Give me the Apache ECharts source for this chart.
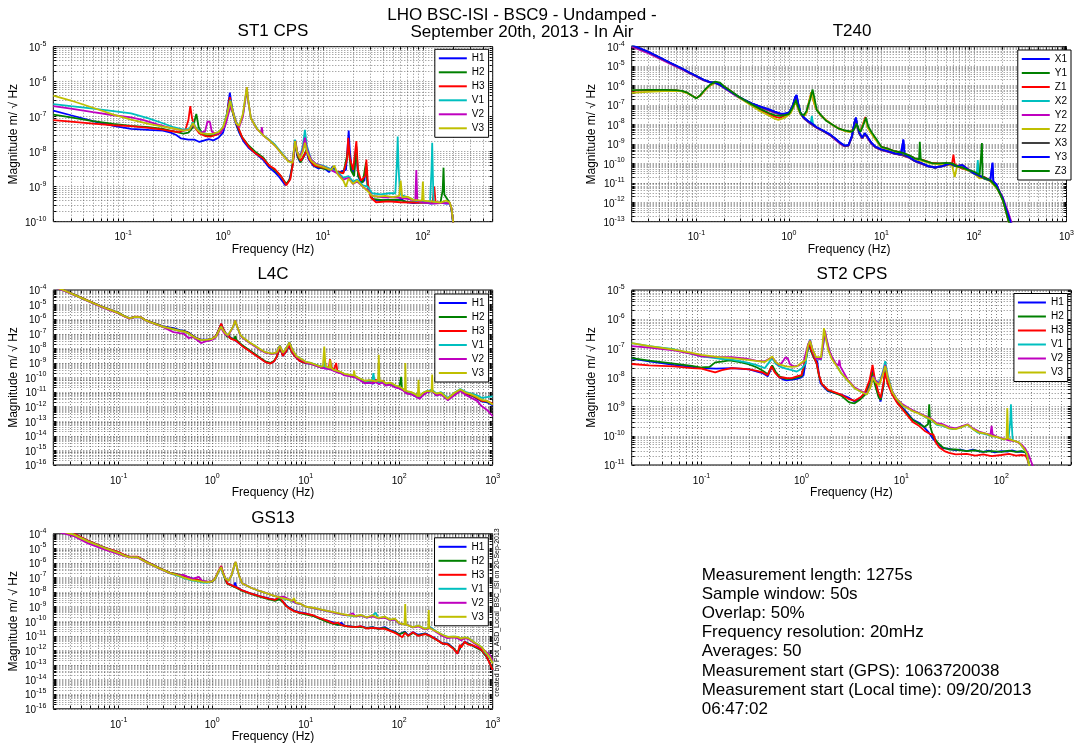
<!DOCTYPE html>
<html>
<head>
<meta charset="utf-8">
<title>LHO BSC-ISI - BSC9 - Undamped</title>
<script src="https://cdn.jsdelivr.net/npm/echarts@6/dist/echarts.min.js"></script>
<style>
html, body { margin: 0; padding: 0; background: #fff; }
#main { width: 1077px; height: 746px; }
</style>
</head>
<body>
<div id="main"></div>
<script>
// 频率下限（分辨率 20 mHz）
var FMIN = 0.02;

// 传感器名称
var cpsNames = ['H1', 'H2', 'H3', 'V1', 'V2', 'V3'];
var t240Names = ['X1', 'Y1', 'Z1', 'X2', 'Y2', 'Z2', 'X3', 'Y3', 'Z3'];

// ---------------- ST1 CPS ----------------
var st1H1 = [[0.02,1.5e-7],[0.03,1.1e-7],[0.05,7.5e-8],[0.08,5.5e-8],[0.12,4.5e-8],[0.18,4.2e-8],[0.25,4e-8],[0.3,3.5e-8],[0.34,3e-8],[0.38,2.4e-8],[0.45,2.2e-8],[0.52,2.2e-8],[0.58,1.9e-8],[0.65,2.1e-8],[0.72,2.3e-8],[0.8,2.1e-8],[0.9,2.5e-8],[1.0,3.5e-8],[1.08,8e-8],[1.13,2.5e-7],[1.17,4.9e-7],[1.21,2.5e-7],[1.27,1.1e-7],[1.35,6e-8],[1.45,3.5e-8],[1.6,2e-8],[1.8,1.3e-8],[2.1,9e-9],[2.5,6e-9],[2.9,3.5e-9],[3.3,2.6e-9],[3.7,1.8e-9],[4.2,1.1e-9],[4.6,1.5e-9],[4.95,4e-9],[5.25,2e-8],[5.5,8e-9],[5.9,5e-9],[6.4,7e-9],[6.8,1.1e-8],[7.2,6e-9],[8,4e-9],[9,3.3e-9],[10,3.6e-9],[11.5,2.6e-9],[12.5,3.8e-9],[14,2.4e-9],[15.5,2.8e-9],[17,3e-9],[17.6,1.2e-8],[18.1,4e-8],[18.6,1e-8],[19.5,3e-9],[20.5,2.5e-9],[21.5,1.2e-8],[22.5,2e-9],[24,1.3e-9],[26,1.5e-9],[27,4e-9],[28,1.1e-9],[30,6e-10],[32,4.2e-10],[38,4e-10],[45,4.3e-10],[52,3.8e-10],[60,4.5e-10],[68,3.6e-10],[80,3.4e-10],[100,3.6e-10],[120,3.3e-10],[145,3.5e-10],[170,3.3e-10],[185,3.3e-10],[192,2.5e-10],[197,1.4e-10],[201,8e-11]];
var st1H2 = [[0.02,1.15e-7],[0.03,9.5e-8],[0.05,7.5e-8],[0.08,6.2e-8],[0.12,5.5e-8],[0.18,5e-8],[0.25,4.5e-8],[0.32,3.8e-8],[0.4,3.3e-8],[0.45,3.5e-8],[0.5,5e-8],[0.54,1.2e-7],[0.57,5e-8],[0.62,3.3e-8],[0.7,2.8e-8],[0.8,3e-8],[0.9,3.2e-8],[1.0,4.5e-8],[1.1,1.2e-7],[1.17,3.2e-7],[1.23,1.5e-7],[1.3,9e-8],[1.4,5e-8],[1.55,2.6e-8],[1.8,1.5e-8],[2.1,1e-8],[2.5,7e-9],[2.9,4e-9],[3.3,3e-9],[3.8,2e-9],[4.3,1.2e-9],[4.7,1.7e-9],[5.0,5e-9],[5.3,1.8e-8],[5.6,7e-9],[6.0,5e-9],[6.5,8e-9],[6.9,1.2e-8],[7.3,6e-9],[8.2,4e-9],[10,3.3e-9],[12,3e-9],[14,2.6e-9],[16,2.5e-9],[17.5,8e-9],[18,1.5e-8],[19,3e-9],[20.5,2e-9],[21.6,1.4e-8],[22.5,2e-9],[25,1.3e-9],[27,5e-9],[28,1e-9],[31,4.5e-10],[40,4.1e-10],[55,4.3e-10],[70,3.7e-10],[90,3.6e-10],[120,3.4e-10],[150,3.5e-10],[158,8e-10],[161,3.5e-9],[164,6e-10],[185,3.5e-10],[193,2.4e-10],[198,1.4e-10],[202,8e-11]];
var st1H3 = [[0.02,8e-8],[0.03,7.2e-8],[0.05,6.3e-8],[0.08,5.7e-8],[0.12,5.4e-8],[0.18,4.8e-8],[0.25,4.3e-8],[0.3,3.9e-8],[0.36,3.6e-8],[0.42,4.2e-8],[0.45,8e-8],[0.47,2e-7],[0.49,9e-8],[0.52,5e-8],[0.58,3.3e-8],[0.66,2.8e-8],[0.75,2.7e-8],[0.85,3e-8],[0.95,3.5e-8],[1.05,6.5e-8],[1.12,1.8e-7],[1.17,3.6e-7],[1.22,2e-7],[1.3,1e-7],[1.4,5.5e-8],[1.55,2.6e-8],[1.8,1.4e-8],[2.1,9e-9],[2.5,6.5e-9],[2.9,4e-9],[3.3,3.2e-9],[3.8,2e-9],[4.3,1.1e-9],[4.7,1.6e-9],[5.0,4.5e-9],[5.3,2.1e-8],[5.6,8e-9],[6.0,5.5e-9],[6.5,8e-9],[6.9,1.1e-8],[7.3,6e-9],[8.2,4e-9],[10,3.5e-9],[12,3.2e-9],[14,2.7e-9],[16,2.4e-9],[17.4,6e-9],[17.9,2.5e-8],[18.5,7e-9],[20,3e-9],[21.6,2e-8],[22.4,3e-9],[24,1.5e-9],[26.5,2e-9],[27.2,6e-9],[28.2,1.2e-9],[30,5e-10],[34,3.6e-10],[45,3.8e-10],[60,3.6e-10],[80,3.5e-10],[100,3.5e-10],[125,3.6e-10],[130,1e-9],[134,3.6e-10],[160,3.4e-10],[185,3.5e-10],[193,2.5e-10],[198,1.4e-10],[202,8e-11]];
var st1V1 = [[0.02,2.3e-7],[0.03,2e-7],[0.05,1.7e-7],[0.08,1.45e-7],[0.12,1.25e-7],[0.18,9e-8],[0.25,6.5e-8],[0.32,5e-8],[0.4,4.3e-8],[0.46,4.5e-8],[0.5,7e-8],[0.53,5e-8],[0.6,3.6e-8],[0.7,3.2e-8],[0.8,3.3e-8],[0.9,3.6e-8],[1.0,5e-8],[1.1,1.3e-7],[1.18,3e-7],[1.25,1.5e-7],[1.35,7e-8],[1.45,5.5e-8],[1.58,1.1e-7],[1.68,3.5e-7],[1.73,6e-7],[1.78,3e-7],[1.9,9e-8],[2.2,4.5e-8],[2.5,3e-8],[2.9,2.2e-8],[3.3,1.6e-8],[3.9,9e-9],[4.5,5.5e-9],[4.95,5e-9],[5.25,2.2e-8],[5.5,1e-8],[5.9,7e-9],[6.3,1.5e-8],[6.6,4.2e-8],[6.9,1.5e-8],[7.6,6e-9],[8.5,4.5e-9],[10,4e-9],[12,3.2e-9],[14,2.6e-9],[16,1.8e-9],[18,2e-9],[20,1.4e-9],[22,1.6e-9],[25,1.1e-9],[28,1e-9],[31,6.5e-10],[38,6e-10],[46,6.5e-10],[53,6.5e-10],[55,5e-9],[56,2.7e-8],[57,4e-9],[59,6e-10],[70,5e-10],[85,4e-10],[100,3.6e-10],[118,3.5e-10],[122,3e-9],[124,1.8e-8],[126,2e-9],[128,3.6e-10],[150,3.4e-10],[185,3.4e-10],[193,2.4e-10],[198,1.4e-10],[202,8e-11]];
var st1V2 = [[0.02,2e-7],[0.03,1.7e-7],[0.05,1.35e-7],[0.08,1.1e-7],[0.12,9.5e-8],[0.16,8e-8],[0.22,6e-8],[0.3,4.7e-8],[0.4,4e-8],[0.46,4.2e-8],[0.5,6e-8],[0.54,4.5e-8],[0.6,3.5e-8],[0.66,3.8e-8],[0.7,7.4e-8],[0.74,7e-8],[0.77,3.8e-8],[0.85,3.2e-8],[0.95,3.6e-8],[1.05,5.5e-8],[1.15,1.4e-7],[1.2,2e-7],[1.27,1.2e-7],[1.35,6.5e-8],[1.45,5e-8],[1.58,1e-7],[1.68,3.5e-7],[1.73,7e-7],[1.78,3e-7],[1.9,9e-8],[2.2,4.3e-8],[2.4,3.5e-8],[2.45,5e-8],[2.5,3e-8],[2.9,2.1e-8],[3.3,1.5e-8],[3.9,8.5e-9],[4.5,5.5e-9],[4.95,5e-9],[5.25,2e-8],[5.5,1e-8],[5.9,7e-9],[6.3,1.2e-8],[6.6,2.5e-8],[6.9,1.2e-8],[7.6,6e-9],[8.5,4.5e-9],[10,3.8e-9],[12,3e-9],[14,2.4e-9],[16,1.6e-9],[18,1.8e-9],[20,1.2e-9],[22,1.4e-9],[25,1e-9],[28,8e-10],[31,5.5e-10],[40,5e-10],[55,5e-10],[70,4.5e-10],[84,4e-10],[86,3e-9],[88,4e-10],[100,3.5e-10],[130,3.3e-10],[150,3.4e-10],[185,3.4e-10],[193,2.4e-10],[198,1.4e-10],[203,8e-11]];
var st1V3 = [[0.02,4e-7],[0.03,2.9e-7],[0.05,1.8e-7],[0.08,1.15e-7],[0.12,8.3e-8],[0.18,6.2e-8],[0.25,5.2e-8],[0.32,4.6e-8],[0.4,4e-8],[0.46,4.2e-8],[0.5,6.5e-8],[0.54,4.5e-8],[0.6,3.4e-8],[0.7,3.2e-8],[0.8,3.3e-8],[0.9,3.6e-8],[1.0,5e-8],[1.1,1.2e-7],[1.18,2.8e-7],[1.25,1.4e-7],[1.35,6.5e-8],[1.45,5.5e-8],[1.58,1.2e-7],[1.68,4e-7],[1.73,7e-7],[1.78,3.2e-7],[1.9,9e-8],[2.2,4.4e-8],[2.5,3e-8],[2.9,2.1e-8],[3.3,1.5e-8],[3.9,8.5e-9],[4.5,5.3e-9],[4.95,4.8e-9],[5.25,2e-8],[5.5,1e-8],[5.9,6.5e-9],[6.3,1e-8],[6.6,1.8e-8],[6.9,1e-8],[7.6,5.5e-9],[8.5,4.3e-9],[10,3.7e-9],[12,3e-9],[13,4e-9],[14,2.3e-9],[16,1.5e-9],[17,1e-9],[18,1.7e-9],[20,1.2e-9],[22,1.5e-9],[25,1e-9],[28,7.5e-10],[31,5.5e-10],[36,5.2e-10],[42,5.5e-10],[50,5e-10],[58,5.5e-10],[60,1.5e-9],[62,5e-10],[70,5.2e-10],[80,4.2e-10],[98,4e-10],[100,1.4e-9],[102,4e-10],[120,3.8e-10],[150,3.5e-10],[170,4e-10],[185,3.6e-10],[193,2.5e-10],[198,1.4e-10],[203,8e-11]];

// ---------------- T240 ----------------
var t240X1 = [[0.02,1.2e-4],[0.03,5.5e-5],[0.04,2.8e-5],[0.055,1.3e-5],[0.07,7.5e-6],[0.085,4.5e-6],[0.1,3.1e-6],[0.12,2e-6],[0.14,1.5e-6],[0.16,1.4e-6],[0.18,1.1e-6],[0.2,8e-7],[0.24,4.5e-7],[0.28,2.8e-7],[0.33,1.8e-7],[0.4,1.2e-7],[0.5,8e-8],[0.6,6e-8],[0.7,4.5e-8],[0.8,3.6e-8],[0.9,3.5e-8],[1.0,4e-8],[1.1,9e-8],[1.17,2.5e-7],[1.21,3.2e-7],[1.26,1.2e-7],[1.33,4e-8],[1.45,2.2e-8],[1.6,1.5e-8],[1.8,1e-8],[2.0,7e-9],[2.4,4.5e-9],[2.8,3e-9],[3.2,1.8e-9],[3.6,1.1e-9],[4.0,8e-10],[4.4,8.5e-10],[4.8,2.5e-9],[5.1,1.2e-8],[5.3,2.2e-8],[5.5,8e-9],[5.8,3.5e-9],[6.2,2e-9],[6.6,3.5e-9],[7.0,2.5e-9],[7.8,1.1e-9],[8.6,7e-10],[10,5e-10],[12,4e-10],[14,3.2e-10],[16,2.8e-10],[17.3,1.6e-9],[17.8,2.8e-10],[20,2e-10],[23,1.3e-10],[27,1e-10],[32,7e-11],[38,6e-11],[45,7e-11],[55,1e-10],[65,7e-11],[75,8e-11],[85,5e-11],[100,3e-11],[115,2.2e-11],[130,1.8e-11],[150,1.3e-11],[158,1e-10],[162,1.2e-11],[175,8e-12],[190,3e-12],[205,1.5e-12],[220,5e-13],[235,2e-13],[250,8e-14]];
var t240Y1 = [[0.02,1.15e-4],[0.03,5.2e-5],[0.04,2.7e-5],[0.055,1.25e-5],[0.07,7.2e-6],[0.085,4.4e-6],[0.1,3e-6],[0.12,1.9e-6],[0.14,1.5e-6],[0.16,1.4e-6],[0.18,1.1e-6],[0.2,8e-7],[0.24,4.4e-7],[0.28,2.8e-7],[0.33,1.8e-7],[0.4,1.15e-7],[0.5,7.5e-8],[0.6,5.5e-8],[0.7,4.2e-8],[0.8,3.4e-8],[0.9,3.3e-8],[1.0,3.8e-8],[1.1,8e-8],[1.17,2e-7],[1.21,2.6e-7],[1.26,1e-7],[1.33,3.8e-8],[1.45,2.1e-8],[1.6,1.4e-8],[1.8,9.5e-9],[2.0,6.8e-9],[2.4,4.3e-9],[2.8,2.8e-9],[3.2,1.7e-9],[3.6,1.05e-9],[4.0,7.8e-10],[4.4,8.5e-10],[4.8,2.2e-9],[5.1,1e-8],[5.3,1.8e-8],[5.5,7e-9],[5.8,3.2e-9],[6.2,1.9e-9],[6.6,3.2e-9],[7.0,2.3e-9],[7.8,1e-9],[8.6,6.8e-10],[10,5e-10],[12,4e-10],[14,3.2e-10],[17,2.6e-10],[20,2e-10],[23,1.4e-10],[27,1e-10],[32,7.5e-11],[38,6e-11],[45,7.5e-11],[55,9e-11],[65,7e-11],[75,7.5e-11],[85,5e-11],[100,3e-11],[115,2.2e-11],[130,1.6e-11],[150,1.3e-11],[175,7e-12],[190,3e-12],[205,1.4e-12],[220,5e-13],[235,1.8e-13],[250,7e-14]];
var t240Z1 = [[0.02,5.5e-7],[0.03,5.7e-7],[0.045,5.8e-7],[0.06,5.6e-7],[0.07,5.2e-7],[0.08,4.2e-7],[0.09,3e-7],[0.1,2.3e-7],[0.11,3e-7],[0.125,6e-7],[0.14,1e-6],[0.16,1.4e-6],[0.18,1.3e-6],[0.2,9e-7],[0.24,5e-7],[0.28,2.8e-7],[0.33,1.7e-7],[0.4,1e-7],[0.5,5.5e-8],[0.6,3.6e-8],[0.7,2.5e-8],[0.8,2.2e-8],[0.9,2.8e-8],[1.0,3.2e-8],[1.1,7e-8],[1.19,1.6e-7],[1.26,7e-8],[1.35,3.2e-8],[1.45,2.7e-8],[1.55,4e-8],[1.65,1.5e-7],[1.75,4.5e-7],[1.82,2e-7],[1.95,7e-8],[2.2,3e-8],[2.6,1.5e-8],[3.0,9e-9],[3.5,6e-9],[4.0,4.8e-9],[4.6,4.2e-9],[5.0,6e-9],[5.3,1.1e-8],[5.6,6e-9],[5.9,4.5e-9],[6.3,1e-8],[6.7,2.4e-8],[7.1,8e-9],[7.8,3.5e-9],[8.6,1.8e-9],[10,7e-10],[12,5.5e-10],[14,4.2e-10],[17,3.5e-10],[20,2.5e-10],[23,1.8e-10],[28,1.5e-10],[34,1.1e-10],[42,1e-10],[50,1e-10],[58,1e-10],[60,2.8e-10],[62,9e-11],[70,6e-11],[85,4.5e-11],[100,3.5e-11],[115,1.8e-11],[130,2e-11],[150,1.3e-11],[175,6e-12],[190,3e-12],[205,1.3e-12],[220,4e-13],[235,1.2e-13],[245,6e-14]];
var t240X2 = [[0.02,1.15e-4],[0.03,5.3e-5],[0.04,2.7e-5],[0.055,1.25e-5],[0.07,7.2e-6],[0.085,4.4e-6],[0.1,3e-6],[0.12,1.9e-6],[0.14,1.45e-6],[0.16,1.35e-6],[0.18,1.05e-6],[0.2,7.8e-7],[0.24,4.4e-7],[0.28,2.7e-7],[0.33,1.75e-7],[0.4,1.15e-7],[0.5,7.5e-8],[0.6,5.6e-8],[0.7,4.3e-8],[0.8,3.5e-8],[0.9,3.4e-8],[1.0,3.9e-8],[1.1,8.5e-8],[1.17,2.2e-7],[1.21,2.8e-7],[1.26,1.1e-7],[1.33,3.9e-8],[1.45,2.2e-8],[1.6,1.5e-8],[1.72,1.2e-8],[1.77,2.8e-8],[1.82,1.1e-8],[2.0,7e-9],[2.4,4.4e-9],[2.8,2.9e-9],[3.2,1.75e-9],[3.6,1.1e-9],[4.0,8e-10],[4.4,8.5e-10],[4.8,2.3e-9],[5.1,1.1e-8],[5.3,2e-8],[5.5,7.5e-9],[5.8,3.3e-9],[6.2,2e-9],[6.6,3.3e-9],[7.0,2.4e-9],[7.8,1.05e-9],[8.6,7e-10],[10,5e-10],[12,4e-10],[14,3.2e-10],[17,2.7e-10],[20,2e-10],[23,1.35e-10],[27,1e-10],[32,7e-11],[38,6e-11],[45,7e-11],[55,9.5e-11],[65,7e-11],[75,7.8e-11],[85,5e-11],[100,3e-11],[107,2.4e-11],[110,1.5e-10],[113,2.2e-11],[130,1.7e-11],[150,1.3e-11],[175,7.5e-12],[190,3e-12],[205,1.4e-12],[220,5e-13],[235,1.9e-13],[250,7e-14]];
var t240Y2 = [[0.02,1e-4],[0.03,4.6e-5],[0.04,2.4e-5],[0.055,1.15e-5],[0.07,6.8e-6],[0.085,4.2e-6],[0.1,2.9e-6],[0.12,1.85e-6],[0.14,1.45e-6],[0.16,1.35e-6],[0.18,1.05e-6],[0.2,7.5e-7],[0.24,4.2e-7],[0.28,2.6e-7],[0.33,1.7e-7],[0.4,1.1e-7],[0.5,7.2e-8],[0.6,5.3e-8],[0.7,4.1e-8],[0.8,3.3e-8],[0.9,3.2e-8],[1.0,3.7e-8],[1.1,8e-8],[1.17,2e-7],[1.21,2.7e-7],[1.26,1e-7],[1.33,3.7e-8],[1.45,2.1e-8],[1.6,1.4e-8],[1.8,9.5e-9],[2.0,6.6e-9],[2.4,4.2e-9],[2.8,2.7e-9],[3.2,1.6e-9],[3.6,1e-9],[4.0,7.5e-10],[4.4,8e-10],[4.8,2.2e-9],[5.1,1e-8],[5.3,1.8e-8],[5.5,7e-9],[5.8,3.2e-9],[6.2,1.9e-9],[6.6,3.2e-9],[7.0,2.2e-9],[7.8,1e-9],[8.6,6.6e-10],[10,4.8e-10],[12,3.8e-10],[14,3.1e-10],[17,2.6e-10],[20,1.9e-10],[23,1.3e-10],[27,9.5e-11],[32,7e-11],[38,6e-11],[45,7e-11],[55,9e-11],[65,7.5e-11],[75,8e-11],[85,5.5e-11],[100,3.2e-11],[115,2.3e-11],[130,1.8e-11],[150,1.4e-11],[175,8e-12],[190,3.5e-12],[205,1.8e-12],[220,7e-13],[235,3e-13],[250,1.2e-13],[260,7e-14]];
var t240Z2 = [[0.02,4.2e-7],[0.03,4.8e-7],[0.045,5.2e-7],[0.06,5.3e-7],[0.07,5e-7],[0.08,4e-7],[0.09,2.9e-7],[0.1,2.3e-7],[0.11,3e-7],[0.125,6e-7],[0.14,1e-6],[0.16,1.4e-6],[0.18,1.3e-6],[0.2,8.5e-7],[0.24,4.8e-7],[0.28,2.7e-7],[0.33,1.6e-7],[0.4,9e-8],[0.5,4.5e-8],[0.6,3e-8],[0.7,2e-8],[0.77,1.7e-8],[0.85,2e-8],[0.95,2.6e-8],[1.05,4e-8],[1.12,8e-8],[1.19,1.5e-7],[1.26,6e-8],[1.35,3e-8],[1.45,2.6e-8],[1.55,4e-8],[1.65,1.5e-7],[1.75,4.5e-7],[1.82,2e-7],[1.95,7e-8],[2.2,3e-8],[2.6,1.5e-8],[3.0,9e-9],[3.5,6e-9],[4.0,4.6e-9],[4.6,4e-9],[5.0,5.5e-9],[5.3,1e-8],[5.6,5.5e-9],[5.9,4.3e-9],[6.3,9e-9],[6.7,2e-8],[7.1,7e-9],[7.8,3.3e-9],[8.6,1.7e-9],[10,6.5e-10],[12,5e-10],[14,4e-10],[17,3.2e-10],[20,2.3e-10],[23,1.6e-10],[28,1.3e-10],[34,1e-10],[42,9e-11],[50,9e-11],[58,8e-11],[62,2e-11],[66,8e-11],[75,6e-11],[85,4.5e-11],[100,3.2e-11],[115,1.7e-11],[130,1.8e-11],[150,1.2e-11],[175,5.5e-12],[190,2.8e-12],[205,1.2e-12],[220,4e-13],[235,1.2e-13],[245,6e-14]];
var t240X3 = [[0.02,1.18e-4],[0.03,5.4e-5],[0.04,2.75e-5],[0.055,1.28e-5],[0.07,7.4e-6],[0.085,4.5e-6],[0.1,3.05e-6],[0.12,1.95e-6],[0.14,1.5e-6],[0.16,1.4e-6],[0.18,1.08e-6],[0.2,7.9e-7],[0.24,4.5e-7],[0.28,2.8e-7],[0.33,1.8e-7],[0.4,1.18e-7],[0.5,7.8e-8],[0.6,5.8e-8],[0.7,4.4e-8],[0.8,3.5e-8],[0.9,3.4e-8],[1.0,3.9e-8],[1.1,8.8e-8],[1.17,2.4e-7],[1.21,3e-7],[1.26,1.15e-7],[1.33,3.9e-8],[1.45,2.2e-8],[1.6,1.5e-8],[1.8,1e-8],[2.0,7e-9],[2.4,4.4e-9],[2.8,2.9e-9],[3.2,1.8e-9],[3.6,1.1e-9],[4.0,7.8e-10],[4.4,8.3e-10],[4.8,2.4e-9],[5.1,1.15e-8],[5.3,2.1e-8],[5.5,7.8e-9],[5.8,3.4e-9],[6.2,2e-9],[6.6,3.4e-9],[7.0,2.4e-9],[7.8,1.1e-9],[8.6,7e-10],[10,5e-10],[12,4e-10],[14,3.2e-10],[17,2.7e-10],[20,2e-10],[23,1.3e-10],[27,1e-10],[32,7e-11],[38,6e-11],[45,7e-11],[55,9.5e-11],[65,7e-11],[75,8e-11],[85,5e-11],[100,3e-11],[115,2.2e-11],[130,1.7e-11],[150,1.3e-11],[175,7.5e-12],[190,3e-12],[205,1.5e-12],[220,5e-13],[235,2e-13],[250,8e-14]];
var t240Y3 = [[0.02,1.22e-4],[0.03,5.6e-5],[0.04,2.85e-5],[0.055,1.32e-5],[0.07,7.6e-6],[0.085,4.6e-6],[0.1,3.1e-6],[0.12,2e-6],[0.14,1.52e-6],[0.16,1.42e-6],[0.18,1.1e-6],[0.2,8e-7],[0.24,4.6e-7],[0.28,2.9e-7],[0.33,1.85e-7],[0.4,1.2e-7],[0.5,8e-8],[0.6,6.1e-8],[0.7,4.6e-8],[0.8,3.7e-8],[0.9,3.6e-8],[1.0,4.1e-8],[1.1,9.5e-8],[1.17,2.6e-7],[1.21,3.3e-7],[1.26,1.25e-7],[1.33,4.1e-8],[1.45,2.3e-8],[1.6,1.55e-8],[1.8,1.05e-8],[2.0,7.2e-9],[2.4,4.6e-9],[2.8,3e-9],[3.2,1.85e-9],[3.6,1.15e-9],[4.0,8.2e-10],[4.4,8.8e-10],[4.8,2.6e-9],[5.1,1.25e-8],[5.3,2.3e-8],[5.5,8.2e-9],[5.8,3.6e-9],[6.2,2.1e-9],[6.6,3.6e-9],[7.0,2.5e-9],[7.8,1.15e-9],[8.6,7.2e-10],[10,5.2e-10],[12,4.1e-10],[14,3.3e-10],[16.5,2.9e-10],[17.2,1.7e-9],[17.8,2.9e-10],[20,2.1e-10],[23,1.35e-10],[27,1.05e-10],[32,7.2e-11],[38,6.2e-11],[45,7.2e-11],[55,1e-10],[65,7.2e-11],[75,8.2e-11],[85,5.2e-11],[100,3.1e-11],[115,2.3e-11],[130,1.8e-11],[150,1.35e-11],[156,1.2e-11],[159,1.1e-10],[162,1.2e-11],[175,8e-12],[190,3.2e-12],[205,1.6e-12],[220,5.5e-13],[235,2.2e-13],[252,8e-14]];
var t240Z3 = [[0.02,5.9e-7],[0.03,6e-7],[0.045,6e-7],[0.06,5.8e-7],[0.07,5.4e-7],[0.08,4.3e-7],[0.09,3e-7],[0.1,2.2e-7],[0.11,3.2e-7],[0.125,6.5e-7],[0.14,1.1e-6],[0.16,1.6e-6],[0.18,1.4e-6],[0.2,9e-7],[0.24,5e-7],[0.28,2.9e-7],[0.33,1.8e-7],[0.4,1.05e-7],[0.5,6e-8],[0.6,4e-8],[0.7,3e-8],[0.8,2.8e-8],[0.9,3e-8],[1.0,3.4e-8],[1.1,7.5e-8],[1.19,1.8e-7],[1.26,7.5e-8],[1.35,3.5e-8],[1.45,3e-8],[1.55,5e-8],[1.7,2e-7],[1.8,6.3e-7],[1.88,2.5e-7],[2.0,5.5e-8],[2.2,3.2e-8],[2.5,1.6e-8],[3.0,9.5e-9],[3.4,6.3e-9],[4.0,5e-9],[4.8,4.3e-9],[5.1,6e-9],[5.4,1.1e-8],[5.7,5.5e-9],[5.95,4.3e-9],[6.4,1e-8],[6.8,2.3e-8],[7.2,8e-9],[8,3.4e-9],[8.8,1.8e-9],[10,7e-10],[12,5.5e-10],[14,4.2e-10],[17,3.5e-10],[20,2.6e-10],[23,1.8e-10],[25.5,1.6e-10],[26,1.3e-9],[26.6,1.6e-10],[30,1.3e-10],[36,1e-10],[42,1e-10],[50,1.05e-10],[58,1e-10],[66,7e-11],[75,6e-11],[85,4.8e-11],[100,3.8e-11],[115,2.5e-11],[120,2e-11],[122,1.1e-9],[124,2e-11],[130,2e-11],[150,1.4e-11],[175,6e-12],[190,3e-12],[205,1.3e-12],[220,4e-13],[235,1.2e-13],[245,6e-14]];

// ---------------- L4C ----------------
var l4cH1 = [[0.02,1.7e-4],[0.0255,1e-4],[0.035,4.2e-5],[0.047,1.8e-5],[0.065,7.5e-6],[0.08,4.5e-6],[0.1,2.6e-6],[0.115,1.6e-6],[0.13,1.15e-6],[0.15,1.45e-6],[0.17,1.4e-6],[0.19,9.5e-7],[0.21,7e-7],[0.25,4.8e-7],[0.3,3.2e-7],[0.385,2.4e-7],[0.45,1.8e-7],[0.5,1.6e-7],[0.56,1.2e-7],[0.65,6e-8],[0.75,3.9e-8],[0.9,4e-8],[1.0,4.5e-8],[1.1,7e-8],[1.2,2.5e-7],[1.25,4.8e-7],[1.3,2.5e-7],[1.38,1.2e-7],[1.48,7e-8],[1.6,5e-8],[1.72,4e-8],[1.8,3.6e-8],[2.1,1.5e-8],[2.5,7e-9],[2.9,3.6e-9],[3.3,2e-9],[3.7,1.2e-9],[4.2,9.5e-10],[4.6,1.3e-9],[4.9,2.5e-9],[5.3,1.2e-8],[5.7,3e-9],[6.2,6e-9],[6.6,1.5e-8],[7.0,7e-9],[7.6,3e-9],[8.7,1.3e-9],[10,9.5e-10],[11.3,9e-10],[13,6.5e-10],[14.5,5e-10],[16,4.2e-10],[18,4e-10],[20,3e-10],[22,2.4e-10],[24,2e-10],[26,1.5e-10],[30,1.3e-10],[34,1.1e-10],[38,7e-11],[43,4e-11],[48,4.5e-11],[52,3.8e-11],[56,5e-11],[61,4e-11],[66,5e-11],[72,3e-11],[80,3.5e-11],[92,2.2e-11],[100,2e-11],[110,1.4e-11],[120,9e-12],[135,8e-12],[150,5e-12],[165,4e-12],[180,7e-12],[200,1e-11],[225,1.2e-11],[250,6e-12],[280,8e-12],[330,3e-12],[390,7e-12],[450,1.3e-11],[520,7e-12],[590,6e-12],[680,3.5e-12],[760,2.3e-12],[870,2e-12],[1000,1.2e-12]];
var l4cH2 = [[0.02,1.7e-4],[0.0255,1e-4],[0.035,4.3e-5],[0.047,1.85e-5],[0.065,7.7e-6],[0.08,4.6e-6],[0.1,2.7e-6],[0.115,1.65e-6],[0.13,1.2e-6],[0.15,1.45e-6],[0.17,1.4e-6],[0.19,9.5e-7],[0.21,7e-7],[0.25,4.8e-7],[0.3,3.1e-7],[0.385,2.2e-7],[0.45,1.7e-7],[0.5,1.5e-7],[0.56,1.15e-7],[0.65,5.8e-8],[0.75,3.8e-8],[0.9,3.9e-8],[1.0,4.4e-8],[1.1,6.8e-8],[1.2,2.3e-7],[1.25,4.2e-7],[1.3,2.3e-7],[1.38,1.1e-7],[1.45,6e-8],[1.5,9e-8],[1.55,5e-8],[1.72,4.5e-8],[1.77,7e-8],[1.82,3.8e-8],[2.1,1.6e-8],[2.5,7.5e-9],[2.9,3.8e-9],[3.3,2.1e-9],[3.7,1.3e-9],[4.2,1e-9],[4.6,1.4e-9],[4.9,2.6e-9],[5.3,1.1e-8],[5.7,3.2e-9],[6.2,6.5e-9],[6.6,1.6e-8],[7.0,7e-9],[7.6,3.2e-9],[8.7,1.4e-9],[10,1e-9],[11.3,9.5e-10],[13,7e-10],[14.5,5.5e-10],[16,4.5e-10],[18,4.2e-10],[20,3.2e-10],[22,2.6e-10],[24,2.2e-10],[26,1.6e-10],[30,1.4e-10],[34,1.2e-10],[38,8e-11],[43,5.4e-11],[48,6e-11],[52,5.5e-11],[56,5e-11],[61,4.5e-11],[66,5.5e-11],[72,3.5e-11],[80,4e-11],[92,2.5e-11],[100,2e-11],[103,1.6e-11],[105,1.1e-10],[107,1.6e-11],[120,1e-11],[135,8e-12],[150,6e-12],[165,4e-12],[180,8e-12],[200,1.1e-11],[225,1.3e-11],[250,7e-12],[280,9e-12],[330,3.5e-12],[390,8e-12],[450,1.4e-11],[520,8e-12],[590,6e-12],[680,4e-12],[760,2.5e-12],[870,2.2e-12],[1000,1.5e-12]];
var l4cH3 = [[0.02,1.75e-4],[0.0255,1.02e-4],[0.035,4.3e-5],[0.047,1.85e-5],[0.065,7.6e-6],[0.08,4.6e-6],[0.1,2.65e-6],[0.115,1.6e-6],[0.13,1.15e-6],[0.15,1.5e-6],[0.17,1.45e-6],[0.19,9.5e-7],[0.21,7e-7],[0.25,4.7e-7],[0.3,3.1e-7],[0.385,2.1e-7],[0.45,1.6e-7],[0.5,1.4e-7],[0.56,1.1e-7],[0.65,5.8e-8],[0.75,3.8e-8],[0.9,4e-8],[1.0,4.6e-8],[1.1,7.5e-8],[1.2,2.6e-7],[1.25,5e-7],[1.3,2.5e-7],[1.38,1.2e-7],[1.48,7e-8],[1.6,4.5e-8],[1.8,3.4e-8],[2.1,1.4e-8],[2.5,6.5e-9],[2.9,3.4e-9],[3.3,1.9e-9],[3.7,1.15e-9],[4.2,9e-10],[4.6,1.3e-9],[4.9,2.6e-9],[5.3,1.3e-8],[5.7,3e-9],[6.2,6.5e-9],[6.6,1.7e-8],[7.0,7e-9],[7.6,3e-9],[8.7,1.3e-9],[10,1e-9],[11.3,9e-10],[13,6.5e-10],[14.5,5e-10],[16,4.5e-10],[17.7,5e-10],[18.2,1.8e-9],[18.8,5e-10],[20,3.2e-10],[20.6,3e-10],[21.2,1e-9],[21.8,3e-10],[24,2.1e-10],[26,1.6e-10],[30,1.4e-10],[34,1.1e-10],[38,7.5e-11],[43,5e-11],[48,5.5e-11],[52,5e-11],[56,7e-11],[61,5e-11],[66,6e-11],[72,3.5e-11],[80,4e-11],[92,2.4e-11],[100,2.2e-11],[110,1.5e-11],[120,1e-11],[135,9e-12],[150,6e-12],[165,4.5e-12],[180,8e-12],[200,1.1e-11],[225,1.3e-11],[250,7e-12],[280,8.5e-12],[330,3.2e-12],[390,8e-12],[450,1.4e-11],[520,8e-12],[590,6.5e-12],[680,4e-12],[760,2.5e-12],[870,2.4e-12],[1000,1.6e-12]];
var l4cV1 = [[0.02,1.65e-4],[0.0255,9.8e-5],[0.035,4.1e-5],[0.047,1.75e-5],[0.065,7.3e-6],[0.08,4.4e-6],[0.1,2.55e-6],[0.115,1.6e-6],[0.13,1.15e-6],[0.15,1.4e-6],[0.17,1.35e-6],[0.19,9e-7],[0.21,6.7e-7],[0.25,4.6e-7],[0.3,3e-7],[0.385,2e-7],[0.45,1.55e-7],[0.5,1.35e-7],[0.56,1e-7],[0.65,5.5e-8],[0.75,3.6e-8],[0.9,3.8e-8],[1.0,4.4e-8],[1.1,6.5e-8],[1.2,2.1e-7],[1.25,3.1e-7],[1.3,1.8e-7],[1.38,1.1e-7],[1.48,8e-8],[1.55,9e-8],[1.68,3e-7],[1.76,7.5e-7],[1.85,3e-7],[2.0,8e-8],[2.1,5.8e-8],[2.5,2.5e-8],[2.9,1.4e-8],[3.3,8e-9],[3.7,5.2e-9],[4.4,4.2e-9],[4.9,5e-9],[5.3,1.6e-8],[5.7,5e-9],[6.2,1e-8],[6.7,2.7e-8],[7.2,8e-9],[8,2.8e-9],[10,1.2e-9],[11.3,1e-9],[13,7e-10],[14.5,5.5e-10],[15.5,6e-10],[15.8,2e-9],[16.2,5e-10],[18,4.3e-10],[20,3.2e-10],[22,2.6e-10],[24,2.2e-10],[26,1.7e-10],[30,1.4e-10],[34,1.2e-10],[38,8e-11],[43,5.5e-11],[48,6e-11],[51.5,6e-11],[53,2e-10],[54.5,6e-11],[61,4.5e-11],[66,5e-11],[72,3.5e-11],[80,4.2e-11],[92,2.6e-11],[100,2.2e-11],[110,1.6e-11],[120,1.1e-11],[135,9e-12],[150,6.5e-12],[165,4.5e-12],[180,9e-12],[200,1.2e-11],[225,1.4e-11],[250,8e-12],[280,1e-11],[330,4e-12],[390,9e-12],[450,1.6e-11],[520,1e-11],[590,8e-12],[680,6e-12],[760,4e-12],[870,4.5e-12],[1000,5e-12]];
var l4cV2 = [[0.02,1.6e-4],[0.0255,9.5e-5],[0.035,4e-5],[0.047,1.7e-5],[0.065,7e-6],[0.08,4.2e-6],[0.1,2.45e-6],[0.115,1.55e-6],[0.13,1.1e-6],[0.15,1.4e-6],[0.17,1.35e-6],[0.19,8.8e-7],[0.21,6.5e-7],[0.25,4.4e-7],[0.3,2.8e-7],[0.385,1.3e-7],[0.45,1.1e-7],[0.5,1e-7],[0.56,5e-8],[0.62,6e-8],[0.68,4e-8],[0.76,2.3e-8],[0.85,3e-8],[0.95,3.5e-8],[1.05,4.5e-8],[1.15,9e-8],[1.2,1.8e-7],[1.25,2.6e-7],[1.3,1.5e-7],[1.38,9e-8],[1.48,7e-8],[1.55,9e-8],[1.68,3.2e-7],[1.76,8e-7],[1.85,3.2e-7],[2.0,8e-8],[2.1,5.5e-8],[2.5,2.4e-8],[2.9,1.3e-8],[3.3,7.5e-9],[3.7,5e-9],[4.4,4e-9],[4.9,4.8e-9],[5.3,1.5e-8],[5.7,4.8e-9],[6.2,9e-9],[6.7,2.5e-8],[7.2,7.5e-9],[8,2.6e-9],[10,1.1e-9],[11.3,9e-10],[13,6.5e-10],[14.5,5e-10],[16,4.2e-10],[18,3.8e-10],[20,2.8e-10],[22,2.2e-10],[24,1.9e-10],[26,1.4e-10],[30,1.2e-10],[34,1e-10],[38,6.5e-11],[43,4e-11],[48,4.5e-11],[52,4e-11],[56,5e-11],[61,3.5e-11],[66,4.5e-11],[72,2.8e-11],[80,3.2e-11],[92,2e-11],[100,1.8e-11],[110,1.3e-11],[120,8e-12],[135,7e-12],[150,5e-12],[165,3.5e-12],[180,6e-12],[200,1e-11],[225,1.2e-11],[250,6e-12],[280,7e-12],[330,2.8e-12],[390,6e-12],[450,1.2e-11],[520,6e-12],[590,4e-12],[680,2.5e-12],[760,1.1e-12],[870,6e-13],[1000,2.2e-13]];
var l4cV3 = [[0.02,1.68e-4],[0.0255,1e-4],[0.035,4.15e-5],[0.047,1.78e-5],[0.065,7.4e-6],[0.08,4.45e-6],[0.1,2.6e-6],[0.115,1.6e-6],[0.13,1.15e-6],[0.15,1.45e-6],[0.17,1.4e-6],[0.19,9e-7],[0.21,6.8e-7],[0.25,4.6e-7],[0.3,3e-7],[0.385,2e-7],[0.45,1.6e-7],[0.5,1.4e-7],[0.56,1.05e-7],[0.65,5.5e-8],[0.75,3.7e-8],[0.9,3.9e-8],[1.0,4.5e-8],[1.1,6.5e-8],[1.2,2e-7],[1.25,3e-7],[1.3,1.8e-7],[1.38,1.1e-7],[1.48,8e-8],[1.55,9.5e-8],[1.68,3.2e-7],[1.76,8e-7],[1.85,3.2e-7],[2.0,8.5e-8],[2.1,6e-8],[2.5,2.6e-8],[2.9,1.45e-8],[3.3,8.2e-9],[3.7,5.4e-9],[4.4,4.4e-9],[4.9,5.2e-9],[5.3,1.5e-8],[5.7,5e-9],[6.2,1e-8],[6.7,2.5e-8],[7.2,8e-9],[8,2.9e-9],[10,1.2e-9],[11.3,1e-9],[13,7.2e-10],[14.5,5.6e-10],[15.3,6e-10],[15.8,1.3e-8],[16.3,6e-10],[18,4.5e-10],[18.3,1.6e-9],[18.7,4.5e-10],[20,3.3e-10],[22,2.7e-10],[24,2.3e-10],[26,1.8e-10],[30,1.5e-10],[32.5,1.4e-10],[33,3e-10],[33.6,1.3e-10],[38,8.5e-11],[43,6e-11],[48,6.5e-11],[52,6e-11],[56,5.5e-11],[59.5,6e-11],[60.5,3.6e-9],[61.5,6e-11],[66,6e-11],[72,4e-11],[80,4.5e-11],[92,2.8e-11],[100,2.4e-11],[110,1.7e-11],[115,1.2e-11],[116.5,1e-9],[118,1.2e-11],[135,1e-11],[150,7e-12],[158,5e-12],[161,7e-11],[164,5e-12],[180,9e-12],[200,1.2e-11],[222,1.1e-11],[225,1.6e-10],[228,1.1e-11],[250,8e-12],[280,9e-12],[330,3.5e-12],[390,9e-12],[450,1.5e-11],[520,9e-12],[590,7e-12],[680,4.5e-12],[760,3e-12],[870,2.5e-12],[1000,1.4e-12]];

// ---------------- ST2 CPS ----------------
var st2H1 = [[0.02,4.4e-8],[0.03,3.6e-8],[0.053,2.7e-8],[0.08,2.3e-8],[0.1,2.1e-8],[0.14,2e-8],[0.2,2.1e-8],[0.3,1.9e-8],[0.36,1.6e-8],[0.41,1.4e-8],[0.46,1.1e-8],[0.49,1.8e-8],[0.51,2.4e-8],[0.54,1.6e-8],[0.6,1e-8],[0.66,8.5e-9],[0.71,8e-9],[0.8,8.5e-9],[0.9,8.9e-9],[1.0,1e-8],[1.05,1.2e-8],[1.12,5e-8],[1.19,1.5e-7],[1.25,8e-8],[1.34,4.6e-8],[1.44,3.6e-8],[1.5,1.2e-8],[1.55,6.4e-9],[1.7,4.5e-9],[1.84,3.4e-9],[2.1,3e-9],[2.5,2.6e-9],[3.0,2e-9],[3.4,1.5e-9],[3.9,2e-9],[4.3,2.6e-9],[4.8,6e-9],[5.1,1.8e-8],[5.35,8e-9],[5.6,5e-9],[5.9,2.5e-9],[6.2,1.5e-9],[6.6,5e-9],[6.9,1.8e-8],[7.3,8e-9],[8.1,3e-9],[9,1.6e-9],[10.3,9.2e-10],[11.5,6e-10],[13,3.6e-10],[15,2.8e-10],[16.6,2.1e-10],[18.5,1.4e-10],[21,7.5e-11],[23,5.5e-11],[26,3.8e-11],[30,3.6e-11],[35,3.2e-11],[39,3.4e-11],[45,3e-11],[52,3.4e-11],[58,3e-11],[66,2.8e-11],[75,3.1e-11],[86,2.7e-11],[100,3e-11],[115,2.9e-11],[128,3.2e-11],[145,2.8e-11],[160,2.9e-11],[175,2.7e-11],[182,2e-11],[188,1.2e-11],[193,8e-12]];
var st2H2 = [[0.02,4.6e-8],[0.03,3.8e-8],[0.053,3e-8],[0.08,2.5e-8],[0.1,2.2e-8],[0.12,2.3e-8],[0.137,3.3e-8],[0.16,3.5e-8],[0.19,3.9e-8],[0.25,3.3e-8],[0.3,2.8e-8],[0.36,2.2e-8],[0.41,1.7e-8],[0.46,1.3e-8],[0.51,2.6e-8],[0.55,1.6e-8],[0.6,1.1e-8],[0.7,9e-9],[0.8,9e-9],[0.9,1e-8],[1.0,1.1e-8],[1.12,5e-8],[1.19,1.6e-7],[1.25,8e-8],[1.34,4.6e-8],[1.42,3e-8],[1.5,1.1e-8],[1.6,6e-9],[1.84,3.6e-9],[2.1,3.1e-9],[2.5,2.4e-9],[3.0,1.4e-9],[3.4,1.3e-9],[3.9,1.8e-9],[4.3,2.5e-9],[4.8,5.5e-9],[5.1,1.5e-8],[5.35,7e-9],[5.9,2.2e-9],[6.2,1.7e-9],[6.6,5e-9],[6.9,1.6e-8],[7.3,7e-9],[8.1,3e-9],[9,1.5e-9],[10.3,8.5e-10],[11.5,5.5e-10],[13,3.5e-10],[15,2.6e-10],[17,2e-10],[18.5,2.5e-10],[19,1.2e-9],[19.5,2e-10],[21,9e-11],[23,6e-11],[26,4e-11],[30,3.4e-11],[35,3.4e-11],[45,3e-11],[55,3.2e-11],[66,2.8e-11],[80,3e-11],[100,2.8e-11],[120,3.1e-11],[140,2.8e-11],[160,3e-11],[175,2.7e-11],[182,2e-11],[188,1.2e-11],[193,8e-12]];
var st2H3 = [[0.02,2.9e-8],[0.03,2.6e-8],[0.053,2.4e-8],[0.08,2.1e-8],[0.1,2e-8],[0.12,1.7e-8],[0.137,1.5e-8],[0.16,1.8e-8],[0.2,2.1e-8],[0.25,2e-8],[0.3,1.9e-8],[0.36,1.7e-8],[0.41,1.5e-8],[0.46,1.2e-8],[0.5,2.4e-8],[0.54,1.5e-8],[0.6,1e-8],[0.66,1e-8],[0.72,9.5e-9],[0.8,9.5e-9],[0.9,1.1e-8],[1.0,1.2e-8],[1.12,6e-8],[1.19,1.6e-7],[1.25,9e-8],[1.34,5e-8],[1.42,3e-8],[1.5,1.2e-8],[1.6,6e-9],[1.84,3.8e-9],[2.1,3.2e-9],[2.5,2.6e-9],[3.0,1.8e-9],[3.4,1.6e-9],[3.9,2.1e-9],[4.3,3e-9],[4.8,8e-9],[5.15,2.7e-8],[5.4,1e-8],[5.9,3e-9],[6.2,2e-9],[6.6,6e-9],[6.9,1.5e-8],[7.3,6e-9],[8.1,2.6e-9],[9,1.4e-9],[10.3,8e-10],[11.5,5e-10],[13,3e-10],[15,2.2e-10],[17,1.5e-10],[19,1.2e-10],[21,1.1e-10],[22,6e-11],[24,4e-11],[27,3e-11],[30,2.6e-11],[35,2.3e-11],[45,2.4e-11],[55,2.1e-11],[66,2.3e-11],[80,2e-11],[100,2.2e-11],[120,2.4e-11],[140,2.1e-11],[160,2.2e-11],[175,2.1e-11],[182,1.6e-11],[188,1.1e-11],[193,8e-12]];
var st2V1 = [[0.02,1.5e-7],[0.03,1.2e-7],[0.053,9.3e-8],[0.08,6.5e-8],[0.1,5.3e-8],[0.15,4.4e-8],[0.2,4.1e-8],[0.28,3.3e-8],[0.35,2.7e-8],[0.43,2.1e-8],[0.48,3.5e-8],[0.51,4.6e-8],[0.55,3e-8],[0.6,2.4e-8],[0.7,2e-8],[0.8,1.8e-8],[0.9,1.6e-8],[1.0,2e-8],[1.1,3e-8],[1.16,1.2e-7],[1.22,2e-7],[1.28,1e-7],[1.4,4.5e-8],[1.57,4.1e-8],[1.65,1.2e-7],[1.72,3.5e-7],[1.78,2e-7],[1.9,8e-8],[1.98,5.3e-8],[2.2,3e-8],[2.5,1.4e-8],[2.9,8e-9],[3.4,4.4e-9],[3.9,3.3e-9],[4.5,2.6e-9],[4.9,5e-9],[5.2,1.1e-8],[5.5,8e-9],[6.0,6.5e-9],[6.5,1.5e-8],[6.9,3.6e-8],[7.3,1.2e-8],[8.1,3.4e-9],[9,1.8e-9],[10.3,1.1e-9],[11.5,9e-10],[13,7.2e-10],[15,6e-10],[18,4.1e-10],[20,3.5e-10],[22.6,2.4e-10],[26,2.2e-10],[30,1.8e-10],[33,1.7e-10],[40,2e-10],[46,2.4e-10],[52,1.7e-10],[58,1.3e-10],[66,1.2e-10],[80,1e-10],[92,9e-11],[105,7.5e-11],[118,8e-11],[123,3e-10],[125,1.2e-9],[127,3e-10],[130,7e-11],[150,6e-11],[170,3.4e-11],[180,2.5e-11],[188,1.2e-11],[193,8e-12]];
var st2V2 = [[0.02,1.2e-7],[0.03,1.05e-7],[0.053,8.5e-8],[0.08,6.5e-8],[0.1,5.3e-8],[0.15,5e-8],[0.2,5e-8],[0.28,4.4e-8],[0.35,3.8e-8],[0.43,3.6e-8],[0.48,4.5e-8],[0.51,5e-8],[0.55,3.5e-8],[0.6,2.6e-8],[0.65,3.5e-8],[0.69,4.9e-8],[0.73,4.5e-8],[0.77,2.8e-8],[0.85,2.4e-8],[0.95,2.6e-8],[1.05,3.5e-8],[1.16,1.3e-7],[1.22,1.9e-7],[1.28,1e-7],[1.4,4.5e-8],[1.57,4.3e-8],[1.65,1.3e-7],[1.72,4e-7],[1.78,2.2e-7],[1.9,8.5e-8],[2.0,5.5e-8],[2.2,3e-8],[2.35,2.6e-8],[2.4,4e-8],[2.45,2.4e-8],[2.9,8.5e-9],[3.4,4.6e-9],[3.9,3.5e-9],[4.5,2.8e-9],[4.9,5e-9],[5.2,1.1e-8],[5.5,8e-9],[6.0,6e-9],[6.5,1.3e-8],[6.9,2.7e-8],[7.3,1e-8],[8.1,3.3e-9],[9,1.8e-9],[10.3,1.2e-9],[11.5,9.5e-10],[13,7.5e-10],[15,6e-10],[18,4.5e-10],[20,3.8e-10],[22.6,2.7e-10],[26,2.5e-10],[30,2e-10],[35,1.8e-10],[40,2.1e-10],[46,2.5e-10],[52,1.8e-10],[60,1.4e-10],[70,1.2e-10],[78,1.1e-10],[80,2.2e-10],[82,1.1e-10],[92,9e-11],[105,8e-11],[120,7e-11],[140,6.5e-11],[160,5e-11],[175,3.5e-11],[185,2.5e-11],[195,1.6e-11],[203,1.1e-11],[210,8e-12]];
var st2V3 = [[0.02,1.5e-7],[0.03,1.2e-7],[0.053,9e-8],[0.08,7e-8],[0.1,6e-8],[0.15,5e-8],[0.2,4.6e-8],[0.28,4.1e-8],[0.35,3.7e-8],[0.43,3.4e-8],[0.48,4.4e-8],[0.51,5.3e-8],[0.55,3.4e-8],[0.6,2.8e-8],[0.7,2.4e-8],[0.8,2.3e-8],[0.9,2.4e-8],[1.0,3.2e-8],[1.1,4e-8],[1.16,1.2e-7],[1.22,1.8e-7],[1.28,1e-7],[1.4,5e-8],[1.57,5e-8],[1.63,1.5e-7],[1.68,4.9e-7],[1.74,2.5e-7],[1.85,9e-8],[2.0,4.5e-8],[2.2,2.8e-8],[2.5,1.4e-8],[2.9,8e-9],[3.4,4.3e-9],[3.9,3.3e-9],[4.5,2.6e-9],[4.9,4.5e-9],[5.2,1e-8],[5.5,7e-9],[6.0,5.5e-9],[6.5,1.2e-8],[6.9,2.5e-8],[7.3,1e-8],[8.1,3.2e-9],[9,1.8e-9],[10.3,1.1e-9],[11.5,9e-10],[13,7e-10],[15,5.8e-10],[18,4.2e-10],[20,3.6e-10],[22.6,2.5e-10],[26,2.3e-10],[30,1.8e-10],[35,1.7e-10],[40,2e-10],[46,2.4e-10],[52,1.7e-10],[60,1.3e-10],[70,1.2e-10],[80,1e-10],[92,9e-11],[105,7.5e-11],[113,8e-11],[115,9e-10],[117,8e-11],[130,7e-11],[150,6e-11],[170,3.5e-11],[180,2.5e-11],[188,1.2e-11],[193,8e-12]];

// ---------------- GS13 ----------------
var gs13H1 = [[0.02,2.4e-4],[0.033,1e-4],[0.047,3.3e-5],[0.07,1.2e-5],[0.1,5.2e-6],[0.115,3.5e-6],[0.13,2.7e-6],[0.16,2.6e-6],[0.2,1.2e-6],[0.28,4.2e-7],[0.35,2.2e-7],[0.39,1.8e-7],[0.45,1.5e-7],[0.5,1.3e-7],[0.6,9e-8],[0.7,7e-8],[0.8,5.5e-8],[0.9,5e-8],[1.0,5.5e-8],[1.07,8e-8],[1.18,3e-7],[1.25,5.5e-7],[1.31,2e-7],[1.38,8e-8],[1.45,4e-8],[1.5,3e-8],[1.7,2.5e-8],[1.76,4.5e-8],[1.82,2.2e-8],[2.1,1.3e-8],[2.6,8e-9],[3.2,5.3e-9],[4.0,3.8e-9],[4.7,2.9e-9],[5.2,3.5e-9],[5.6,2.6e-9],[6.2,1.2e-9],[6.6,9e-10],[7.5,5.5e-10],[8.5,4.2e-10],[10,3.5e-10],[12,2.5e-10],[14,1.6e-10],[17,1.1e-10],[20,8e-11],[22,5.5e-11],[24,8e-11],[26,5e-11],[30,4.5e-11],[34,4e-11],[39,4.5e-11],[45,3.5e-11],[52,4e-11],[60,3.2e-11],[70,4e-11],[80,2.5e-11],[90,2e-11],[100,1.3e-11],[115,2e-11],[125,1.1e-11],[140,1.8e-11],[160,1.2e-11],[190,1.5e-11],[215,1e-11],[250,6e-12],[290,3e-12],[330,3e-12],[380,1.5e-12],[420,6e-13],[460,2e-12],[500,4e-12],[550,3e-12],[620,2e-12],[700,1.4e-12],[760,1.1e-12],[850,4e-13],[930,1.5e-13],[1000,4.6e-14]];
var gs13H2 = [[0.02,2.3e-4],[0.033,9.5e-5],[0.047,3.2e-5],[0.07,1.15e-5],[0.1,5e-6],[0.115,3.4e-6],[0.13,2.6e-6],[0.16,2.5e-6],[0.2,1.15e-6],[0.28,4.1e-7],[0.35,2.2e-7],[0.39,1.9e-7],[0.45,1.5e-7],[0.5,1.3e-7],[0.6,8.5e-8],[0.7,6.5e-8],[0.8,5.2e-8],[0.9,4.8e-8],[1.0,5.2e-8],[1.07,7.5e-8],[1.18,2.8e-7],[1.25,5e-7],[1.31,1.8e-7],[1.38,7e-8],[1.45,3.8e-8],[1.5,2.8e-8],[1.8,2e-8],[2.1,1.2e-8],[2.6,7.5e-9],[3.2,5e-9],[4.0,3.3e-9],[4.7,2.5e-9],[5.2,3.2e-9],[5.6,2.3e-9],[6.2,1.1e-9],[6.6,8.5e-10],[7.5,5e-10],[8.5,3.8e-10],[10,3e-10],[12,2.3e-10],[14,1.5e-10],[17,9e-11],[20,6.5e-11],[24,5.5e-11],[28,4.5e-11],[34,4.2e-11],[39,4e-11],[45,3.5e-11],[52,3.8e-11],[60,3e-11],[70,3.6e-11],[80,2.3e-11],[90,1.8e-11],[100,1.3e-11],[115,1.8e-11],[125,1e-11],[140,1.6e-11],[160,1.1e-11],[190,1.4e-11],[215,9e-12],[250,5.5e-12],[290,3e-12],[330,2.8e-12],[380,1.4e-12],[420,7e-13],[460,2e-12],[500,3.5e-12],[550,3e-12],[620,2e-12],[700,1.3e-12],[760,1e-12],[850,4e-13],[930,1.5e-13],[1000,5e-14]];
var gs13H3 = [[0.02,2.6e-4],[0.033,1.05e-4],[0.047,3.4e-5],[0.07,1.2e-5],[0.1,5.5e-6],[0.115,3.6e-6],[0.13,2.7e-6],[0.16,2.7e-6],[0.2,1.2e-6],[0.28,4.2e-7],[0.35,2.2e-7],[0.39,1.8e-7],[0.45,1.45e-7],[0.5,1.3e-7],[0.6,8.5e-8],[0.7,7e-8],[0.8,5.5e-8],[0.9,5e-8],[1.0,5.5e-8],[1.07,8.5e-8],[1.18,3.2e-7],[1.25,6.2e-7],[1.31,2.2e-7],[1.38,9e-8],[1.45,4e-8],[1.5,3e-8],[1.8,2.2e-8],[2.1,1.3e-8],[2.6,8e-9],[3.2,5.3e-9],[4.0,3.6e-9],[4.7,2.9e-9],[5.0,3.8e-9],[5.3,4.5e-9],[5.6,2.6e-9],[6.2,1.1e-9],[6.6,8e-10],[7.5,5e-10],[8.5,4e-10],[10,3.4e-10],[12,2.6e-10],[14,1.7e-10],[17,1.1e-10],[20,7e-11],[22,8e-11],[24,5.5e-11],[28,4.5e-11],[34,4e-11],[39,4.6e-11],[45,3.2e-11],[52,3.6e-11],[60,3.2e-11],[70,3e-11],[80,2.2e-11],[90,1.6e-11],[100,1.1e-11],[108,8e-12],[115,1.6e-11],[125,1e-11],[140,1.8e-11],[160,1e-11],[190,1.3e-11],[215,1e-11],[250,5.5e-12],[290,3e-12],[330,2.6e-12],[380,1.3e-12],[420,6e-13],[445,2.5e-12],[460,1.6e-12],[500,4e-12],[550,2.5e-12],[620,2.2e-12],[700,1.5e-12],[760,1.1e-12],[850,4.5e-13],[930,1.3e-13],[1000,4.6e-14]];
var gs13V1 = [[0.02,2.2e-4],[0.033,9e-5],[0.047,3e-5],[0.07,1.1e-5],[0.1,4.8e-6],[0.115,3.2e-6],[0.13,2.5e-6],[0.16,2.4e-6],[0.2,1.1e-6],[0.28,3.8e-7],[0.35,2e-7],[0.39,1.6e-7],[0.45,1.2e-7],[0.5,9e-8],[0.6,6.5e-8],[0.7,5.5e-8],[0.8,4.5e-8],[0.9,4.5e-8],[1.0,5.5e-8],[1.07,8e-8],[1.18,2.8e-7],[1.25,4.5e-7],[1.31,1.8e-7],[1.38,9e-8],[1.5,6e-8],[1.62,1.5e-7],[1.72,6e-7],[1.78,1.1e-6],[1.84,5e-7],[1.95,1.2e-7],[2.1,4e-8],[2.6,2e-8],[3.2,1.2e-8],[4.0,7.5e-9],[4.7,5.3e-9],[5.3,4.2e-9],[5.8,3.6e-9],[6.5,3e-9],[8,1.7e-9],[9,1.5e-9],[10,1e-9],[12,8e-10],[14,6.5e-10],[17,5e-10],[20,4e-10],[24,3e-10],[28,2.6e-10],[34,2.2e-10],[39,2.6e-10],[45,1.8e-10],[52,2.5e-10],[56,4e-10],[60,1.6e-10],[70,2e-10],[80,1.2e-10],[90,1.4e-10],[100,7e-11],[120,6e-11],[140,3.8e-11],[160,5e-11],[190,3e-11],[215,4e-11],[250,2e-11],[290,1.2e-11],[330,8.5e-12],[380,9e-12],[420,8.5e-12],[460,6e-12],[500,8e-12],[550,7e-12],[620,4e-12],[700,2.5e-12],[760,1.7e-12],[850,6e-13],[930,3.5e-13],[1000,1.5e-13]];
var gs13V2 = [[0.02,1.7e-4],[0.033,7e-5],[0.047,2.2e-5],[0.07,8.5e-6],[0.1,4e-6],[0.115,2.9e-6],[0.13,2.4e-6],[0.16,2.3e-6],[0.2,1.05e-6],[0.28,3.7e-7],[0.35,2e-7],[0.39,1.7e-7],[0.45,1.4e-7],[0.5,1.5e-7],[0.55,1.1e-7],[0.62,8e-8],[0.68,1e-7],[0.72,1.1e-7],[0.78,6e-8],[0.9,5e-8],[1.0,5.5e-8],[1.07,8e-8],[1.18,3e-7],[1.25,5.5e-7],[1.31,2e-7],[1.38,9e-8],[1.5,6e-8],[1.62,1.6e-7],[1.72,6.5e-7],[1.78,1.15e-6],[1.84,5e-7],[1.95,1.2e-7],[2.1,4e-8],[2.6,2e-8],[3.2,1.2e-8],[4.0,7.5e-9],[4.7,5.3e-9],[5.3,4.5e-9],[5.8,5e-9],[6.5,3.5e-9],[8,1.7e-9],[9,1.5e-9],[10,1e-9],[12,8e-10],[14,6.5e-10],[17,5e-10],[20,4e-10],[24,3e-10],[28,2.6e-10],[32,3.5e-10],[34,2.2e-10],[39,2.5e-10],[45,1.8e-10],[52,2.2e-10],[60,1.6e-10],[70,1.8e-10],[80,1.2e-10],[90,1.3e-10],[100,7e-11],[120,6e-11],[140,3.8e-11],[160,4.5e-11],[190,2.8e-11],[215,3.5e-11],[250,1.8e-11],[290,1e-11],[330,7e-12],[380,8e-12],[420,7e-12],[460,5e-12],[500,7e-12],[550,6e-12],[620,3.5e-12],[700,2e-12],[760,1.5e-12],[850,8e-13],[930,5e-13],[1000,2e-13]];
var gs13V3 = [[0.02,2.1e-4],[0.033,8.8e-5],[0.047,3e-5],[0.07,1.1e-5],[0.1,4.8e-6],[0.115,3.2e-6],[0.13,2.5e-6],[0.16,2.4e-6],[0.2,1.1e-6],[0.28,3.9e-7],[0.35,2.1e-7],[0.39,1.7e-7],[0.45,1.3e-7],[0.5,1e-7],[0.6,7e-8],[0.7,6e-8],[0.8,5e-8],[0.9,4.8e-8],[1.0,5.5e-8],[1.07,8e-8],[1.18,3e-7],[1.25,5e-7],[1.31,1.9e-7],[1.38,9e-8],[1.5,6e-8],[1.62,1.6e-7],[1.72,6.5e-7],[1.78,1.2e-6],[1.84,5e-7],[1.95,1.2e-7],[2.1,3.9e-8],[2.6,2e-8],[3.2,1.2e-8],[4.0,7.5e-9],[4.7,5.3e-9],[5.3,4.3e-9],[5.8,3.8e-9],[6.5,3.2e-9],[7.2,2.5e-9],[7.5,4e-9],[7.8,2e-9],[9,1.5e-9],[10,1e-9],[12,8.5e-10],[14,6.8e-10],[17,5.2e-10],[20,4.2e-10],[24,3.2e-10],[28,2.7e-10],[34,2.3e-10],[39,2.7e-10],[45,1.9e-10],[52,2.6e-10],[60,1.7e-10],[70,2.1e-10],[80,1.3e-10],[90,1.5e-10],[100,7.5e-11],[114,6e-11],[116,1.5e-9],[118,6e-11],[140,4e-11],[160,5e-11],[190,3e-11],[204,3.5e-11],[207,6e-10],[210,3.5e-11],[250,2e-11],[290,1.2e-11],[330,8.5e-12],[380,9e-12],[420,8.5e-12],[460,6.5e-12],[500,8e-12],[550,7e-12],[620,4e-12],[700,2.5e-12],[760,1.7e-12],[850,7e-13],[930,3.5e-13],[1000,1.3e-13]];

// 文字
var mainTitle = ['LHO BSC-ISI - BSC9 - Undamped -', 'September 20th, 2013 - In Air'];
var infoLines = ['Measurement length: 1275s', 'Sample window: 50s', 'Overlap: 50%', 'Frequency resolution: 20mHz', 'Averages: 50', 'Measurement start (GPS): 1063720038', 'Measurement start (Local time): 09/20/2013', '06:47:02'];
var credit = 'created by Plot_ASD_Local_BSC_ISI on 20-Sep-2013';

// MATLAB 默认颜色顺序
var COLORS = ['#0000ff', '#008000', '#ff0000', '#00bfbf', '#bf00bf', '#bfbf00', '#404040'];
var FONT = '"Liberation Sans", Arial, Helvetica, sans-serif';

// 五个子图
var panels = [
    { title: 'ST1 CPS', names: cpsNames, data: [st1H1, st1H2, st1H3, st1V1, st1V2, st1V3], xMax: 500, yMin: 1e-10, yMax: 1e-5,
      box: [53.3, 46.7], legend: [588.4, 49.3], titlePos: [273, 31.5] },
    { title: 'T240', names: t240Names, data: [t240X1, t240Y1, t240Z1, t240X2, t240Y2, t240Z2, t240X3, t240Y3, t240Z3], xMax: 1000, yMin: 1e-13, yMax: 1e-4,
      box: [631.7, 46.7], legend: [6, 50], titlePos: [852, 31.5] },
    { title: 'L4C', names: cpsNames, data: [l4cH1, l4cH2, l4cH3, l4cV1, l4cV2, l4cV3], xMax: 1000, yMin: 1e-16, yMax: 1e-4,
      box: [53.3, 290], legend: [588.4, 294], titlePos: [273, 274.5] },
    { title: 'ST2 CPS', names: cpsNames, data: [st2H1, st2H2, st2H3, st2V1, st2V2, st2V3], xMax: 500, yMin: 1e-11, yMax: 1e-5,
      box: [631.7, 290], legend: [9.3, 293.5], titlePos: [852, 274.5] },
    { title: 'GS13', names: cpsNames, data: [gs13H1, gs13H2, gs13H3, gs13V1, gs13V2, gs13V3], xMax: 1000, yMin: 1e-16, yMax: 1e-4,
      box: [53.3, 533.8], legend: [588.7, 537.8], titlePos: [273, 518] }
];
var BOX_W = 439.4, BOX_H = 175;

// 10 的整数次幂（两端稍微内收，避免浮点误差被过滤掉）
function decades(lo, hi) {
    var out = [];
    var e0 = Math.round(Math.log10(lo)), e1 = Math.round(Math.log10(hi));
    for (var e = e0; e <= e1; e++) {
        var v = Number('1e' + e);
        if (e === e0) v = v * (1 + 1e-7);
        if (e === e1) v = v * (1 - 1e-7);
        out.push(v);
    }
    return out;
}
// 网格位置 1..9 x 10^k
function gridValues(lo, hi) {
    var out = [];
    var e0 = Math.floor(Math.log10(lo)), e1 = Math.ceil(Math.log10(hi));
    for (var e = e0; e <= e1; e++) {
        for (var m = 1; m <= 9; m++) {
            var v = Number(m + 'e' + e);
            if (v >= lo * (1 - 1e-9) && v <= hi * (1 + 1e-9)) out.push(v);
        }
    }
    return out;
}
function powLabel(v) {
    var e = Math.round(Math.log10(v));
    return '{b|10}{s|' + e + '}';
}
// 标签框保持矮小（13px），上标靠 top 对齐抬高，避免相邻标签被判为重叠
var RICH = {
    b: { fontSize: 10, fontFamily: FONT, color: '#000', lineHeight: 13, verticalAlign: 'bottom' },
    s: { fontSize: 7, fontFamily: FONT, color: '#000', lineHeight: 1, verticalAlign: 'top' }
};

var option = {
    animation: false,
    backgroundColor: '#fff',
    textStyle: { fontFamily: FONT },
    grid: [], xAxis: [], yAxis: [], legend: [], series: [], graphic: []
};

panels.forEach(function (p, i) {
    option.grid.push({
        left: p.box[0], top: p.box[1], width: BOX_W, height: BOX_H,
        show: true, borderColor: '#000', borderWidth: 1, backgroundColor: '#fff'
    });
    var xGrid = gridValues(FMIN, p.xMax);
    var yGrid = gridValues(p.yMin, p.yMax);
    var tickStyle = { inside: true, length: 3, lineStyle: { color: '#000', width: 1 } };

    // 下/上 x 轴
    option.xAxis.push({
        type: 'log', gridIndex: i, min: FMIN, max: p.xMax, position: 'bottom',
        axisLine: { show: false }, splitLine: { show: false },
        axisTick: Object.assign({ customValues: xGrid }, tickStyle),
        axisLabel: { customValues: decades(0.1, p.xMax), formatter: powLabel, rich: RICH, margin: 8, color: '#000',
                     showMinLabel: true, showMaxLabel: true, hideOverlap: false },
        name: 'Frequency (Hz)', nameLocation: 'middle', nameGap: 21, nameMoveOverlap: false,
        nameTextStyle: { fontSize: 12, color: '#000', fontFamily: FONT, lineHeight: 14 }
    });
    option.xAxis.push({
        type: 'log', gridIndex: i, min: FMIN, max: p.xMax, position: 'top',
        axisLine: { show: false }, splitLine: { show: false }, axisLabel: { show: false },
        axisTick: Object.assign({ customValues: xGrid }, tickStyle)
    });
    // 左/右 y 轴
    option.yAxis.push({
        type: 'log', gridIndex: i, min: p.yMin, max: p.yMax, position: 'left',
        axisLine: { show: false }, splitLine: { show: false },
        axisTick: Object.assign({ customValues: yGrid }, tickStyle),
        axisLabel: { customValues: decades(p.yMin, p.yMax), formatter: powLabel, rich: RICH, margin: 7, color: '#000',
                     showMinLabel: true, showMaxLabel: true, hideOverlap: false },
        name: 'Magnitude m/ \u221A Hz', nameLocation: 'middle', nameGap: 33, nameMoveOverlap: false,
        nameTextStyle: { fontSize: 12, color: '#000', fontFamily: FONT, lineHeight: 14 }
    });
    option.yAxis.push({
        type: 'log', gridIndex: i, min: p.yMin, max: p.yMax, position: 'right',
        axisLine: { show: false }, splitLine: { show: false }, axisLabel: { show: false },
        axisTick: Object.assign({ customValues: yGrid }, tickStyle)
    });

    // 点线网格（precision 要大，否则很小的值会被四舍五入成 0）
    var lines = xGrid.map(function (v) { return { xAxis: v }; })
        .concat(yGrid.map(function (v) { return { yAxis: v }; }));
    option.series.push({
        type: 'line', xAxisIndex: 2 * i, yAxisIndex: 2 * i, data: [], silent: true,
        markLine: {
            silent: true, symbol: 'none', animation: false, z: 1, precision: 20,
            label: { show: false }, emphasis: { disabled: true },
            lineStyle: { color: '#555', width: 0.8, type: [1, 2], opacity: 0.9 },
            data: lines
        }
    });

    p.names.forEach(function (name, k) {
        var c = COLORS[k % COLORS.length];
        option.series.push({
            type: 'line', name: name, xAxisIndex: 2 * i, yAxisIndex: 2 * i,
            data: p.data[k], symbol: 'none', showSymbol: false, clip: true, z: 2,
            lineStyle: { width: 1.8, color: c }, itemStyle: { color: c },
            emphasis: { disabled: true }
        });
    });

    option.legend.push({
        orient: 'vertical', right: p.legend[0], top: p.legend[1],
        data: p.names.map(function (n) { return { name: n, icon: 'rect' }; }),
        selectedMode: false,
        itemWidth: 28, itemHeight: 2, itemGap: 0,
        padding: [2, 4, 2, 4],
        backgroundColor: '#fff', borderColor: '#000', borderWidth: 1, borderRadius: 0,
        textStyle: { fontSize: 10, color: '#000', fontFamily: FONT, lineHeight: 14 }
    });

    option.graphic.push({
        type: 'text', x: p.titlePos[0], y: p.titlePos[1], silent: true,
        style: { text: p.title, fontSize: 17, fontFamily: FONT, fill: '#000', align: 'center', verticalAlign: 'middle' }
    });
});

option.graphic.push({
    type: 'text', x: 522, y: 7.3, silent: true,
    style: { text: mainTitle.join('\n'), fontSize: 17, fontFamily: FONT, fill: '#000', align: 'center', verticalAlign: 'top', lineHeight: 16.5 }
});
option.graphic.push({
    type: 'text', x: 701.7, y: 565.4, silent: true,
    style: { text: infoLines.join('\n'), fontSize: 17, fontFamily: FONT, fill: '#000', align: 'left', verticalAlign: 'top', lineHeight: 19.2 }
});
option.graphic.push({
    type: 'text', x: 497, y: 612.5, rotation: Math.PI / 2, silent: true,
    style: { text: credit, fontSize: 7, fontFamily: FONT, fill: '#000', align: 'center', verticalAlign: 'middle' }
});

var chart = echarts.init(document.getElementById('main'), null, { renderer: 'canvas' });
chart.setOption(option);
</script>
</body>
</html>
